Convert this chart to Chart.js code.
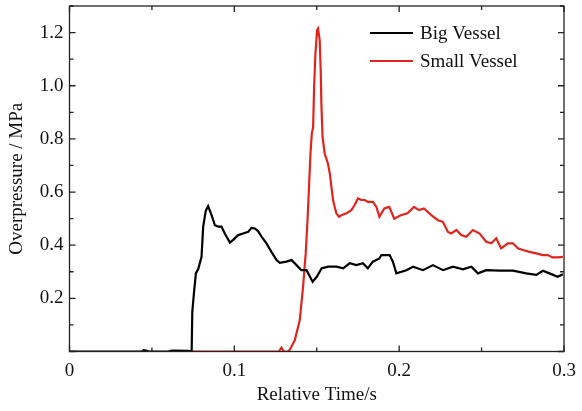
<!DOCTYPE html>
<html>
<head>
<meta charset="utf-8">
<script src="https://cdn.jsdelivr.net/npm/chart.js@4/dist/chart.umd.min.js"></script>
<style>
  html, body { margin: 0; padding: 0; background: #fff; }
  #c { display: block; }
</style>
</head>
<body>
<canvas id="c" width="582" height="411"></canvas>
<script>
// ---- data ----
const seriesNames = ['Big Vessel', 'Small Vessel'];
const xTickLabels = ['0', '0.1', '0.2', '0.3'];
const yTickLabels = ['0.2', '0.4', '0.6', '0.8', '1.0', '1.2'];

const bigTime = [0, 0.044, 0.045, 0.047, 0.048, 0.060, 0.062, 0.072, 0.0741, 0.0745, 0.0755, 0.0767, 0.0781, 0.0801, 0.0811, 0.0827, 0.0841, 0.0862, 0.0882, 0.0902, 0.0922, 0.0942, 0.0973, 0.0993, 0.1023, 0.1053, 0.1084, 0.1104, 0.1124, 0.1144, 0.1165, 0.1195, 0.1225, 0.1256, 0.1276, 0.1316, 0.1347, 0.1377, 0.1407, 0.1438, 0.1459, 0.1475, 0.150, 0.153, 0.157, 0.162, 0.166, 0.170, 0.174, 0.178, 0.181, 0.184, 0.188, 0.1892, 0.1942, 0.1962, 0.1983, 0.2044, 0.2084, 0.2145, 0.2205, 0.2266, 0.2326, 0.2387, 0.2438, 0.2478, 0.2528, 0.2609, 0.2690, 0.2771, 0.2832, 0.2872, 0.2912, 0.2962, 0.2993];
const bigPressure = [0, 0, 0.005, 0.003, 0, 0, 0.003, 0.002, 0, 0.15, 0.22, 0.295, 0.31, 0.356, 0.47, 0.53, 0.547, 0.513, 0.475, 0.47, 0.47, 0.444, 0.41, 0.42, 0.438, 0.444, 0.45, 0.465, 0.463, 0.453, 0.432, 0.407, 0.375, 0.344, 0.334, 0.338, 0.344, 0.325, 0.306, 0.306, 0.281, 0.262, 0.281, 0.313, 0.319, 0.319, 0.313, 0.332, 0.325, 0.332, 0.313, 0.338, 0.35, 0.363, 0.363, 0.338, 0.294, 0.306, 0.319, 0.306, 0.325, 0.306, 0.319, 0.309, 0.319, 0.294, 0.306, 0.304, 0.304, 0.294, 0.288, 0.304, 0.294, 0.281, 0.291];

const smallTime = [0.074, 0.127, 0.1286, 0.1300, 0.1326, 0.1336, 0.1367, 0.1397, 0.1417, 0.1433, 0.1444, 0.1453, 0.1462, 0.147, 0.1478, 0.1484, 0.1492, 0.1502, 0.1508, 0.1518, 0.1524, 0.1528, 0.1535, 0.1548, 0.1568, 0.1579, 0.1589, 0.1599, 0.1609, 0.1619, 0.1635, 0.165, 0.168, 0.171, 0.173, 0.175, 0.1771, 0.1791, 0.1811, 0.1841, 0.1862, 0.188, 0.191, 0.194, 0.197, 0.201, 0.205, 0.209, 0.212, 0.215, 0.2195, 0.2235, 0.2265, 0.2296, 0.2316, 0.2347, 0.2377, 0.2407, 0.2447, 0.2488, 0.2528, 0.2559, 0.2589, 0.2619, 0.2659, 0.269, 0.272, 0.275, 0.2791, 0.2832, 0.2872, 0.2902, 0.2932, 0.2962, 0.2993];
const smallPressure = [0, 0, 0.015, 0, 0, 0.006, 0.043, 0.118, 0.244, 0.369, 0.494, 0.62, 0.745, 0.82, 0.845, 0.995, 1.12, 1.209, 1.215, 1.171, 1.058, 0.933, 0.808, 0.745, 0.707, 0.67, 0.62, 0.57, 0.544, 0.52, 0.507, 0.513, 0.52, 0.532, 0.551, 0.576, 0.57, 0.57, 0.563, 0.563, 0.544, 0.507, 0.538, 0.544, 0.5, 0.513, 0.52, 0.544, 0.532, 0.538, 0.513, 0.494, 0.488, 0.45, 0.444, 0.457, 0.438, 0.432, 0.457, 0.444, 0.413, 0.407, 0.426, 0.388, 0.407, 0.407, 0.388, 0.382, 0.375, 0.369, 0.363, 0.363, 0.354, 0.354, 0.356];

// ---- chart ----
const FONT = 'Liberation Serif, Times New Roman, serif';
const toPts = (xs, ys) => xs.map((x, i) => ({ x: x, y: ys[i] }));

const frameAndTicks = {
  id: 'frameAndTicks',
  afterDraw(chart) {
    const { ctx, chartArea: a, scales: { x, y } } = chart;
    ctx.save();
    ctx.strokeStyle = '#222';
    ctx.lineWidth = 1.3;
    ctx.strokeRect(a.left, a.top, a.right - a.left, a.bottom - a.top);
    ctx.beginPath();
    for (let i = 0; i <= 6; i++) {
      const v = i * 0.05;
      const px = x.getPixelForValue(v);
      const len = (i % 2 === 0) ? 6 : 4;
      ctx.moveTo(px, a.bottom); ctx.lineTo(px, a.bottom - len);
      ctx.moveTo(px, a.top); ctx.lineTo(px, a.top + len);
    }
    for (let i = 0; i <= 13; i++) {
      const v = i * 0.1;
      const py = y.getPixelForValue(v);
      const len = (i % 2 === 0) ? 6 : 4;
      ctx.moveTo(a.left, py); ctx.lineTo(a.left + len, py);
      ctx.moveTo(a.right, py); ctx.lineTo(a.right - len, py);
    }
    ctx.stroke();

    // legend inside the plot, top right
    const ds = chart.data.datasets;
    ctx.font = '19px ' + FONT;
    ctx.textBaseline = 'middle';
    ctx.textAlign = 'left';
    ds.forEach((d, i) => {
      const ly = a.top + 27 + i * 28;
      ctx.beginPath();
      ctx.strokeStyle = d.borderColor;
      ctx.lineWidth = 2.2;
      ctx.moveTo(a.right - 194, ly); ctx.lineTo(a.right - 151, ly);
      ctx.stroke();
      ctx.fillStyle = '#111';
      ctx.fillText(d.label, a.right - 144, ly + 1);
    });
    ctx.restore();
  }
};

new Chart(document.getElementById('c'), {
  type: 'line',
  data: {
    datasets: [
      { label: seriesNames[0], data: toPts(bigTime, bigPressure), borderColor: '#000000', borderWidth: 2.2, pointRadius: 0, tension: 0, fill: false },
      { label: seriesNames[1], data: toPts(smallTime, smallPressure), borderColor: 'rgb(226,36,30)', borderWidth: 2.2, pointRadius: 0, tension: 0, fill: false }
    ]
  },
  options: {
    responsive: false,
    animation: false,
    devicePixelRatio: 1,
    layout: { padding: { top: 6, right: 18, left: 0, bottom: 0 } },
    plugins: { legend: { display: false }, tooltip: { enabled: false } },
    scales: {
      x: {
        type: 'linear', min: 0, max: 0.3,
        grid: { display: false, drawTicks: false },
        border: { display: false },
        ticks: {
          stepSize: 0.1, padding: 8, color: '#111', font: { family: FONT, size: 19 },
          maxRotation: 0,
          callback: (v) => { const i = Math.round(v * 10); return (Math.abs(v * 10 - i) < 1e-6 && i >= 0 && i < xTickLabels.length) ? xTickLabels[i] : ''; }
        },
        title: { display: true, text: 'Relative Time/s', color: '#111', font: { family: FONT, size: 19 }, padding: { top: 0, bottom: 5 } },
        afterFit: (s) => { s.height = 59.5; s.paddingLeft = 0; s.paddingRight = 0; }
      },
      y: {
        type: 'linear', min: 0, max: 1.3,
        grid: { display: false, drawTicks: false },
        border: { display: false },
        ticks: {
          stepSize: 0.2, padding: 6, color: '#111', font: { family: FONT, size: 19 },
          callback: (v) => { const i = Math.round(v * 5); return (Math.abs(v * 5 - i) < 1e-6 && i >= 1 && i <= yTickLabels.length) ? yTickLabels[i - 1] : ''; }
        },
        title: { display: true, text: 'Overpressure / MPa', color: '#111', font: { family: FONT, size: 19 }, padding: { top: 6, bottom: 0 } },
        afterFit: (s) => { s.width = 69.5; s.paddingTop = 0; s.paddingBottom = 0; }
      }
    }
  },
  plugins: [frameAndTicks]
});
</script>
</body>
</html>
